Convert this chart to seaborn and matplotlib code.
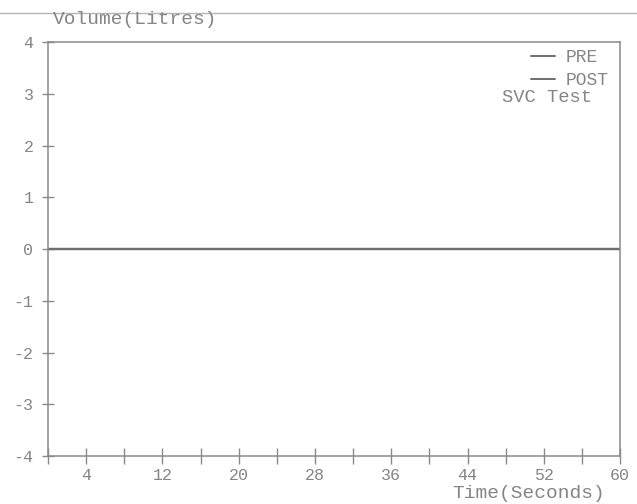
import matplotlib
matplotlib.use("Agg")
import matplotlib.pyplot as plt
from matplotlib.lines import Line2D
import seaborn as sns
import pandas as pd

# ---- data ----
time_s = [0, 10, 20, 30, 40, 50, 60]
pre_vol = [0, 0, 0, 0, 0, 0, 0]
post_vol = [0, 0, 0, 0, 0, 0, 0]
series_names = ["PRE", "POST"]
x_ticks = [0, 4, 8, 12, 16, 20, 24, 28, 32, 36, 40, 44, 48, 52, 56, 60]
x_tick_labels = ["", "4", "", "12", "", "20", "", "28", "", "36", "", "44", "", "52", "", "60"]
y_ticks = [-4, -3, -2, -1, 0, 1, 2, 3, 4]
y_tick_labels = ["-4", "-3", "-2", "-1", "0", "1", "2", "3", "4"]

df = pd.DataFrame({
    "Time": time_s + time_s,
    "Volume": pre_vol + post_vol,
    "Series": [series_names[0]] * len(time_s) + [series_names[1]] * len(time_s),
})

sns.set_theme(style="white")
plt.rcParams["font.family"] = ["Liberation Mono", "DejaVu Sans Mono"]

TXT = "#858585"
SPN = "#8a8a8a"
LINE = "#6e6e6e"

fig = plt.figure(figsize=(6.37, 5.04), dpi=100)
fig.patch.set_facecolor("white")
ax = fig.add_axes([0.0754, 0.0952, 0.898, 0.8214])

sns.lineplot(data=df, x="Time", y="Volume", hue="Series",
             palette={"PRE": LINE, "POST": LINE}, linewidth=1.6,
             ax=ax, legend=False)

ax.set_xlim(0, 60)
ax.set_ylim(-4, 4)
ax.set_xticks(x_ticks)
ax.set_xticklabels(x_tick_labels)
ax.set_yticks(y_ticks)
ax.set_yticklabels(y_tick_labels)
ax.set_xlabel("")
ax.set_ylabel("")

for s in ax.spines.values():
    s.set_visible(True)
    s.set_color(SPN)
    s.set_linewidth(1.1)

ax.tick_params(axis="x", bottom=True, direction="inout", length=11, width=1,
               color=SPN, labelcolor=TXT, labelsize=12, pad=3)
ax.tick_params(axis="y", left=True, direction="inout", length=9, width=1,
               color=SPN, labelcolor=TXT, labelsize=12, pad=6)
ax.grid(False)

handles = [Line2D([0], [0], color=LINE, lw=1.4) for _ in series_names]
leg = ax.legend(handles, series_names, loc="upper right",
                bbox_to_anchor=(0.98, 0.982), frameon=False,
                handlelength=1.3, handletextpad=0.6, labelspacing=0.3,
                borderaxespad=0, borderpad=0, fontsize=13)
for t in leg.get_texts():
    t.set_color(TXT)

ax.text(0.794, 0.867, "SVC Test", transform=ax.transAxes, ha="left",
        va="center", fontsize=13.5, color=TXT)

# header rule and axis titles
fig.add_artist(Line2D([0, 1], [1 - 13 / 504, 1 - 13 / 504],
                      transform=fig.transFigure, color="#b5b5b5", lw=1))
fig.text(135 / 637, 1 - 19 / 504, "Volume(Litres)", ha="center", va="center",
         fontsize=14, color=TXT)
fig.text(529 / 637, 1 - 494 / 504, "Time(Seconds)", ha="center", va="center",
         fontsize=14, color=TXT)

fig.savefig("out.png", dpi=100, facecolor="white")
